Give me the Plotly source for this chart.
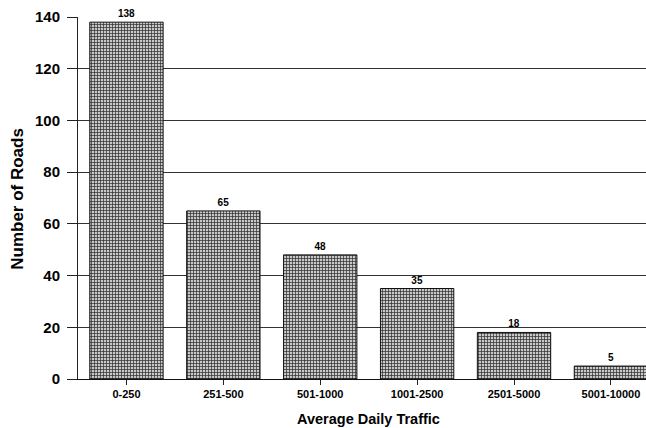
import plotly.graph_objects as go

# Road counts by average daily traffic band
categories = ["0-250", "251-500", "501-1000", "1001-2500", "2501-5000", "5001-10000"]
road_counts = [138, 65, 48, 35, 18, 5]
y_ticks = [0, 20, 40, 60, 80, 100, 120, 140]

FONT = "Arial, 'Liberation Sans', sans-serif"

fig = go.Figure()
fig.add_trace(
    go.Bar(
        x=list(range(len(categories))),
        y=road_counts,
        width=0.757,
        marker=dict(
            color="#b8b8b8",
            line=dict(color="#111111", width=1),
            pattern=dict(shape="+", size=3, solidity=0.4,
                         fgcolor="#2a2a2a", bgcolor="#c8c8c8", fillmode="replace"),
        ),
        text=[str(v) for v in road_counts],
        textposition="outside",
        textfont=dict(family=FONT, size=10, color="black", weight="bold"),
        cliponaxis=False,
        showlegend=False,
    )
)

fig.update_layout(
    width=646,
    height=428,
    margin=dict(l=78, r=0, t=17, b=49),
    paper_bgcolor="white",
    plot_bgcolor="white",
    font=dict(family=FONT, color="black"),
    xaxis=dict(
        range=[-0.5, 5.362],
        tickmode="array",
        tickvals=list(range(len(categories))),
        ticktext=categories,
        tickfont=dict(family=FONT, size=11, color="black", weight="bold"),
        ticks="outside",
        ticklen=5,
        tickcolor="#222222",
        showline=True,
        linecolor="#111111",
        linewidth=1,
        showgrid=False,
        zeroline=False,
    ),
    yaxis=dict(
        range=[0, 140],
        tickmode="array",
        tickvals=y_ticks,
        tickfont=dict(family=FONT, size=15, color="black", weight="bold"),
        ticks="outside",
        ticklen=10,
        tickcolor="#222222",
        ticklabelstandoff=4,
        showline=True,
        linecolor="#222222",
        linewidth=1,
        showgrid=True,
        gridcolor="#333333",
        gridwidth=1,
        zeroline=False,
    ),
)

# Axis titles, positioned in pixels relative to the plot area
plot_h = 428 - 17 - 49
plot_w = 646 - 78
fig.add_annotation(
    text="Average Daily Traffic",
    x=2.5, xref="x", xanchor="center",
    y=-(419 - (17 + plot_h)) / plot_h, yref="paper", yanchor="middle",
    showarrow=False,
    font=dict(family=FONT, size=14.5, color="black", weight="bold"),
)
fig.add_annotation(
    text="Number of Roads",
    x=(18 - 78) / plot_w, xref="paper", xanchor="center",
    y=69.7, yref="y", yanchor="middle",
    textangle=-90,
    showarrow=False,
    font=dict(family=FONT, size=17, color="black", weight="bold"),
)

fig.write_html("out.html")
